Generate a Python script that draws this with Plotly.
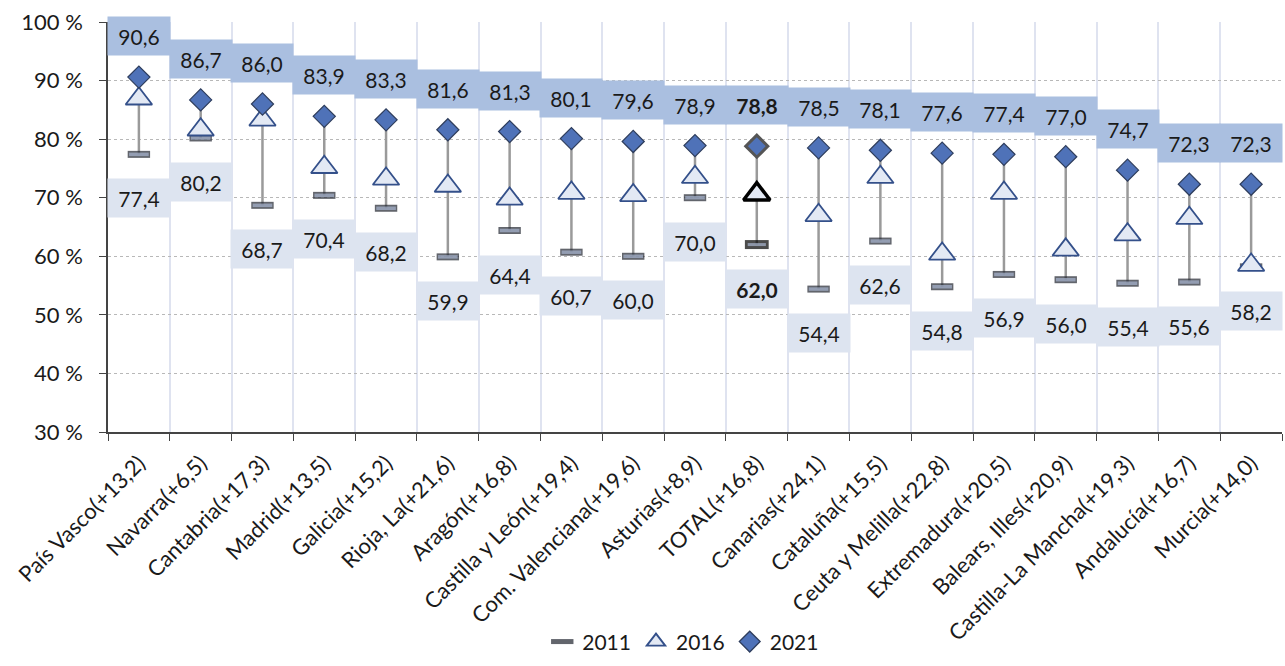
import plotly.graph_objects as go

categories = ["País Vasco(+13,2)", "Navarra(+6,5)", "Cantabria(+17,3)", "Madrid(+13,5)",
              "Galicia(+15,2)", "Rioja, La(+21,6)", "Aragón(+16,8)", "Castilla y León(+19,4)",
              "Com. Valenciana(+19,6)", "Asturias(+8,9)", "TOTAL(+16,8)", "Canarias(+24,1)",
              "Cataluña(+15,5)", "Ceuta y Melilla(+22,8)", "Extremadura(+20,5)",
              "Balears, Illes(+20,9)", "Castilla-La Mancha(+19,3)", "Andalucía(+16,7)",
              "Murcia(+14,0)"]
v2011 = [77.4, 80.2, 68.7, 70.4, 68.2, 59.9, 64.4, 60.7, 60.0, 70.0, 62.0, 54.4, 62.6,
         54.8, 56.9, 56.0, 55.4, 55.6, 58.2]
v2016 = [86.9, 81.6, 83.3, 75.2, 73.2, 72.0, 69.8, 70.8, 70.4, 73.5, 70.6, 67.0, 73.5,
         60.4, 70.8, 61.1, 63.7, 66.5, 58.5]
v2021 = [90.6, 86.7, 86.0, 83.9, 83.3, 81.6, 81.3, 80.1, 79.6, 78.9, 78.8, 78.5, 78.1,
         77.6, 77.4, 77.0, 74.7, 72.3, 72.3]
y_ticks = [30, 40, 50, 60, 70, 80, 90, 100]
y_tick_labels = [f"{v} %" for v in y_ticks]
series_names = ["2011", "2016", "2021"]

FONT = "Lato"
TOTAL = "TOTAL(+16,8)"
is_total = [c == TOTAL for c in categories]

fig = go.Figure()

# connector lines 2011 -> 2021
lx, ly = [], []
for c, a, b in zip(categories, v2011, v2021):
    lx += [c, c, None]
    ly += [a, b, None]
fig.add_trace(go.Scatter(x=lx, y=ly, mode="lines", line=dict(color="#9a9a9a", width=2.5),
                         showlegend=False, hoverinfo="skip"))

# 2011 dash: outer dark, inner light
fig.add_trace(go.Scatter(
    x=categories, y=v2011, mode="markers", name=series_names[0],
    marker=dict(symbol="line-ew", size=[17 if t else 16 for t in is_total],
                line=dict(color=["#000000" if t else "#20242f" for t in is_total],
                          width=[9 if t else 7 for t in is_total]))))
fig.add_trace(go.Scatter(
    x=categories, y=v2011, mode="markers", showlegend=False, hoverinfo="skip",
    marker=dict(symbol="line-ew", size=[13 if t else 14 for t in is_total],
                line=dict(color="#a9b6d0", width=[3 if t else 3.5 for t in is_total]))))

# 2016 triangles
fig.add_trace(go.Scatter(
    x=categories, y=v2016, mode="markers", name=series_names[1],
    marker=dict(symbol="triangle-up", size=23, color="#e3e9f4",
                line=dict(color=["#000000" if t else "#34508a" for t in is_total],
                          width=[3.5 if t else 1.8 for t in is_total]))))

# 2021 diamonds
fig.add_trace(go.Scatter(
    x=categories, y=v2021, mode="markers", name=series_names[2],
    marker=dict(symbol="diamond", size=17, color="#4f72b8",
                line=dict(color=["#555555" if t else "#2e3d5c" for t in is_total],
                          width=[3 if t else 1.2 for t in is_total]))))

def fmt(v, bold):
    s = f"{v:.1f}".replace(".", ",")
    return f"<b>{s}</b>" if bold else s

for c, a, b, t in zip(categories, v2011, v2021, is_total):
    fig.add_annotation(x=c, y=b, yshift=41, text=fmt(b, t), showarrow=False,
                       width=62, height=38, bgcolor="#aabfe0", borderpad=0,
                       font=dict(family=FONT, size=21, color="#1a1a1a"))
    fig.add_annotation(x=c, y=a, yshift=-44, text=fmt(a, t), showarrow=False,
                       width=62, height=38, bgcolor="#dde4f0", borderpad=0,
                       font=dict(family=FONT, size=21, color="#1a1a1a"))

fig.update_layout(
    width=1285, height=666,
    margin=dict(l=108, r=3, t=22, b=234),
    paper_bgcolor="white", plot_bgcolor="white",
    font=dict(family=FONT, color="#1a1a1a"),
    showlegend=True,
    legend=dict(orientation="h", x=0.49, xanchor="center", y=-0.562, yanchor="bottom",
                font=dict(size=21, family=FONT), traceorder="normal"),
    xaxis=dict(type="category", range=[-0.5, len(categories) - 0.5],
               tickson="boundaries", showgrid=True, gridcolor="#dfe3f0",
               gridwidth=1.5, ticks="outside", ticklen=7, tickcolor="#444",
               showline=True, linecolor="#444", linewidth=1.5, tickangle=-45,
               ticklabelstandoff=8,
               tickfont=dict(size=22, family=FONT, color="#1a1a1a")),
    yaxis=dict(range=[30, 100], tickmode="array", tickvals=y_ticks, ticktext=y_tick_labels,
               showgrid=True, gridcolor="#b8b8b8", griddash="dot", gridwidth=1,
               ticks="outside", ticklen=7, tickcolor="#444", showline=True,
               linecolor="#444", linewidth=1.5, ticklabelstandoff=12,
               zeroline=False, tickfont=dict(size=22, family=FONT, color="#1a1a1a")),
)

fig.write_html("out.html")
